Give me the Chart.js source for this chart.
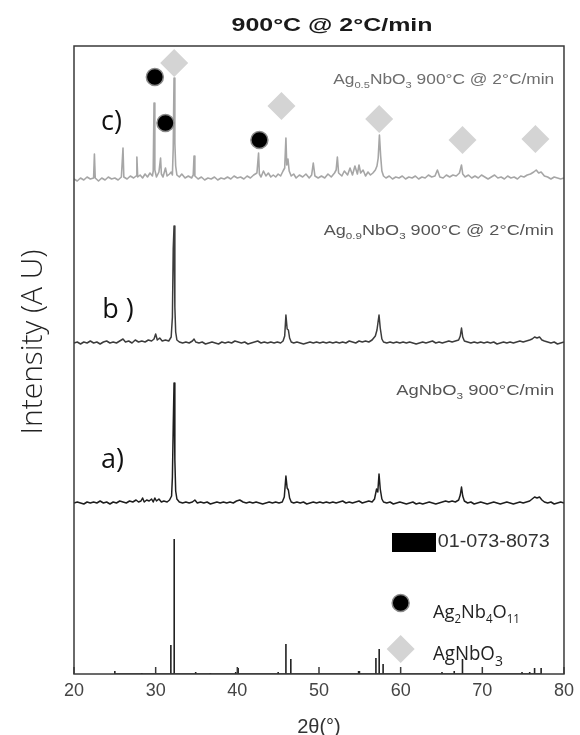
<!DOCTYPE html>
<html>
<head>
<meta charset="utf-8">
<script src="https://cdn.jsdelivr.net/npm/chart.js@4.4.1/dist/chart.umd.min.js"></script>
<style>
  html,body{margin:0;padding:0;background:#fff;}
  #wrap{width:580px;height:735px;}
</style>
</head>
<body>
<div id="wrap"><canvas id="c" width="580" height="735"></canvas></div>
<script>
// ---------------- DATA ----------------
// 2θ axis ticks
const xTickValues = [20, 30, 40, 50, 60, 70, 80];

// Pattern c) Ag0.5NbO3 — [2θ, intensity above its own baseline]
const patternC = [[20,1],[20.4,-1],[20.8,2],[21.2,0],[21.6,3],[22.0,1],[22.4,2],[22.5,26],[22.6,2],[23.0,-1],[23.4,2],[23.8,0],[24.2,3],[24.6,1],[25.0,2],[25.4,0],[25.8,3],[26.0,32],[26.1,3],[26.5,1],[26.9,4],[27.3,2],[27.6,4],[27.7,23],[27.8,3],[28.1,5],[28.4,2],[28.7,6],[29.0,3],[29.3,7],[29.6,4],[29.7,9],[29.8,77],[29.9,10],[30.1,3],[30.4,8],[30.6,22],[30.7,6],[30.9,3],[31.2,12],[31.4,4],[31.7,6],[31.9,8],[32.05,5],[32.15,32],[32.25,102],[32.35,37],[32.45,14],[32.6,5],[32.9,3],[33.2,6],[33.6,2],[34.0,4],[34.4,2],[34.6,5],[34.7,24],[34.8,4],[35.2,1],[35.6,3],[36.0,0],[36.4,2],[36.8,1],[37.2,3],[37.6,0],[38.0,2],[38.4,1],[38.8,3],[39.2,1],[39.6,4],[40.0,2],[40.4,3],[40.8,1],[41.2,4],[41.6,2],[42.0,5],[42.4,7],[42.6,27],[42.7,6],[42.9,3],[43.2,9],[43.5,4],[43.8,7],[44.1,3],[44.4,5],[44.7,3],[45.0,6],[45.3,4],[45.6,9],[45.8,12],[45.95,42],[46.05,15],[46.2,21],[46.35,9],[46.6,4],[46.9,6],[47.2,2],[47.6,5],[48.0,3],[48.4,6],[48.8,2],[49.1,5],[49.3,17],[49.5,4],[49.9,2],[50.3,4],[50.7,2],[51.1,6],[51.5,3],[51.9,7],[52.1,10],[52.25,23],[52.4,7],[52.8,4],[53.1,9],[53.5,5],[53.8,12],[54.1,5],[54.4,14],[54.7,6],[54.9,15],[55.1,7],[55.4,10],[55.7,4],[56.0,8],[56.3,5],[56.6,7],[56.9,10],[57.1,14],[57.25,22],[57.4,45],[57.55,24],[57.7,9],[57.9,4],[58.2,2],[58.6,4],[59.0,1],[59.4,3],[59.8,2],[60.2,4],[60.6,1],[61.0,3],[61.4,2],[61.8,4],[62.2,1],[62.6,3],[63.0,2],[63.4,5],[63.8,3],[64.2,4],[64.5,10],[64.8,3],[65.2,2],[65.6,5],[66.0,3],[66.4,5],[66.8,4],[67.2,7],[67.45,15],[67.6,6],[67.9,3],[68.3,5],[68.7,2],[69.1,4],[69.5,2],[69.9,5],[70.3,3],[70.7,1],[71.1,3],[71.5,5],[71.9,2],[72.3,3],[72.7,1],[73.1,4],[73.5,2],[73.9,3],[74.3,1],[74.7,4],[75.1,3],[75.5,5],[75.9,6],[76.3,8],[76.6,10],[76.9,7],[77.2,8],[77.6,4],[78.0,3],[78.4,1],[78.8,3],[79.2,2],[79.6,1],[80,2]];

// Pattern b) Ag0.9NbO3
const patternB = [[20,0],[20.4,1],[20.8,-1],[21.2,1],[21.6,0],[22.0,2],[22.4,0],[22.8,1],[23.2,-1],[23.6,1],[24.0,2],[24.4,0],[24.8,1],[25.2,0],[25.6,2],[26.0,4],[26.3,1],[26.7,2],[27.1,0],[27.5,3],[27.9,1],[28.3,2],[28.7,1],[29.1,3],[29.5,2],[29.8,4],[30.0,9],[30.2,3],[30.5,5],[30.8,2],[31.2,3],[31.6,2],[31.9,6],[32.05,26],[32.15,94],[32.25,117],[32.35,36],[32.45,11],[32.6,3],[32.9,1],[33.3,0],[33.7,1],[34.1,0],[34.5,2],[34.7,4],[34.9,1],[35.3,0],[35.7,1],[36.1,-1],[36.5,0],[36.9,1],[37.3,0],[37.7,-1],[38.1,1],[38.5,0],[38.9,1],[39.3,0],[39.7,2],[40.1,1],[40.5,0],[40.9,1],[41.3,-1],[41.7,0],[42.1,1],[42.5,2],[42.9,0],[43.3,1],[43.7,0],[44.1,1],[44.5,0],[44.9,1],[45.3,0],[45.6,2],[45.8,7],[45.95,28],[46.1,14],[46.25,13],[46.4,5],[46.6,1],[46.9,0],[47.3,1],[47.7,0],[48.1,-1],[48.5,0],[48.9,1],[49.3,0],[49.7,1],[50.1,0],[50.5,1],[50.9,0],[51.3,1],[51.7,0],[52.1,1],[52.5,0],[52.9,1],[53.3,0],[53.7,2],[54.1,1],[54.5,0],[54.9,2],[55.3,1],[55.7,2],[56.1,1],[56.5,3],[56.9,7],[57.1,13],[57.35,28],[57.5,15],[57.7,4],[57.9,1],[58.3,0],[58.7,1],[59.1,0],[59.5,1],[59.9,0],[60.3,1],[60.7,0],[61.1,1],[61.5,0],[61.9,-1],[62.3,0],[62.7,1],[63.1,0],[63.5,1],[63.9,2],[64.3,0],[64.7,1],[65.1,0],[65.5,1],[65.9,2],[66.3,1],[66.7,2],[67.1,3],[67.3,7],[67.45,15],[67.6,6],[67.8,2],[68.2,1],[68.6,0],[69.0,1],[69.4,0],[69.8,1],[70.2,0],[70.6,1],[71.0,0],[71.4,1],[71.8,-1],[72.2,0],[72.6,1],[73.0,0],[73.4,1],[73.8,0],[74.2,1],[74.6,2],[75.0,1],[75.4,2],[75.8,3],[76.1,4],[76.4,6],[76.7,5],[77.0,6],[77.3,3],[77.6,2],[78.0,1],[78.4,0],[78.8,1],[79.2,-1],[79.6,0],[80,1]];

// Pattern a) AgNbO3
const patternA = [[20,0],[20.4,1],[20.8,0],[21.2,-1],[21.6,1],[22.0,0],[22.4,1],[22.8,0],[23.2,2],[23.6,0],[24.0,1],[24.4,-1],[24.8,1],[25.2,0],[25.6,2],[26.0,1],[26.4,0],[26.8,2],[27.2,1],[27.6,3],[27.9,1],[28.2,2],[28.4,5],[28.6,1],[28.9,3],[29.2,2],[29.5,4],[29.7,1],[29.9,5],[30.1,2],[30.4,4],[30.7,1],[31.0,2],[31.4,1],[31.7,3],[31.95,7],[32.05,26],[32.15,76],[32.25,120],[32.35,43],[32.45,12],[32.6,4],[32.9,1],[33.3,0],[33.7,1],[34.1,0],[34.5,1],[34.8,3],[35.1,0],[35.5,1],[35.9,0],[36.3,1],[36.7,-1],[37.1,0],[37.5,1],[37.9,0],[38.3,1],[38.7,0],[39.1,1],[39.5,0],[39.9,2],[40.3,3],[40.7,1],[41.1,0],[41.5,1],[41.9,0],[42.3,1],[42.7,0],[43.1,-1],[43.5,0],[43.9,1],[44.3,0],[44.7,1],[45.1,0],[45.5,1],[45.75,6],[45.95,27],[46.1,15],[46.25,13],[46.4,5],[46.6,1],[46.9,0],[47.3,1],[47.7,0],[48.1,1],[48.5,-1],[48.9,0],[49.3,1],[49.7,0],[50.1,1],[50.5,0],[50.9,1],[51.3,0],[51.7,1],[52.1,0],[52.5,1],[52.9,2],[53.3,0],[53.7,1],[54.1,0],[54.5,1],[54.9,2],[55.3,0],[55.7,1],[56.1,2],[56.5,1],[56.8,4],[57.05,14],[57.2,11],[57.35,29],[57.5,14],[57.7,4],[57.9,1],[58.3,0],[58.7,1],[59.1,-1],[59.5,0],[59.9,1],[60.3,0],[60.7,-1],[61.1,0],[61.5,1],[61.9,-1],[62.3,0],[62.7,-1],[63.1,0],[63.5,1],[63.9,0],[64.3,-1],[64.7,0],[65.1,1],[65.5,2],[65.9,1],[66.3,2],[66.7,1],[67.1,3],[67.3,8],[67.45,16],[67.6,7],[67.8,2],[68.2,0],[68.6,1],[69.0,-1],[69.4,0],[69.8,1],[70.2,0],[70.6,-1],[71.0,0],[71.4,1],[71.8,0],[72.2,-1],[72.6,0],[73.0,1],[73.4,0],[73.8,-1],[74.2,0],[74.6,1],[75.0,0],[75.4,1],[75.8,2],[76.1,4],[76.4,6],[76.7,5],[77.0,6],[77.3,3],[77.6,1],[78.0,0],[78.4,1],[78.8,-1],[79.2,0],[79.6,1],[80,0]];

// Reference card 01-073-8073 sticks — [2θ, relative intensity]
const refSticks = [[25.0,3],[28.3,1],[31.86,29],[32.27,135],[34.9,2],[36.7,1],[39.8,2],[40.1,6],[45.0,2],[45.95,30],[46.55,15],[54.85,3],[54.95,3],[56.97,16],[57.37,25],[57.85,10],[65.06,2],[66.56,3],[67.57,15],[74.86,2],[75.8,2],[76.4,6],[77.2,6]];

// Vertical stacking level of each pattern (intensity units)
const stackLevels = { c: 494, b: 331, a: 171, ref: 0 };

// Phase markers on pattern c) [2θ, level]
const ag2nb4o11Marks = [[29.9,597],[31.2,551],[42.7,534]];
const agnbo3Marks = [[32.27,611],[45.4,568],[57.37,555],[67.57,534],[76.5,535]];
// Legend symbols [2θ, level]
const legendCardMark = [[61.6,132]];
const legendCircleMark = [[60.0,71]];
const legendDiamondMark = [[60.0,25]];

// Texts
const chartTitle = '900°C @ 2°C/min';
const xTitle = '2θ(°)';
const yTitle = 'Intensity (A U)';
const cardName = '01-073-8073';

// ---------------- BUILD ----------------
const toXY = (arr, off) => arr.map(([x, y]) => ({ x: x, y: y + off }));
const stickLine = [];
refSticks.forEach(([x, h]) => {
  stickLine.push({ x: x, y: 0 }, { x: x, y: h }, { x: x, y: 0 });
});
const toPts = arr => arr.map(([x, y]) => ({ x: x, y: y }));

// legend rectangle symbol
const rectSym = document.createElement('canvas');
rectSym.width = 44; rectSym.height = 19;
(function(){ const g = rectSym.getContext('2d'); g.fillStyle = '#000'; g.fillRect(0,0,44,19); })();

const LINE = { type: 'line', showLine: true, pointRadius: 0, tension: 0, fill: false, borderJoinStyle: 'round' };

const frameAndText = {
  id: 'frameAndText',
  afterDatasetsDraw(chart) {
    const ctx = chart.ctx, a = chart.chartArea, xs = chart.scales.x, ys = chart.scales.y;
    ctx.save();
    // frame
    ctx.strokeStyle = '#3a3a3a'; ctx.lineWidth = 1.5;
    ctx.strokeRect(a.left, a.top, a.right - a.left, a.bottom - a.top);
    // inward ticks
    ctx.beginPath();
    xs.ticks.forEach(t => {
      const px = xs.getPixelForValue(t.value);
      ctx.moveTo(px, a.bottom); ctx.lineTo(px, a.bottom - 7);
    });
    ctx.stroke();

    const X = v => xs.getPixelForValue(v), Y = v => ys.getPixelForValue(v);
    // draw rich text runs; optional target width stretches horizontally
    function runs(list, x, y, size, family, weight, color, align, target, subRatio) {
      const sr = subRatio || 0.62;
      const sub = Math.round(size * sr);
      let total = 0;
      const w = list.map(([t, s]) => { ctx.font = `${weight} ${s ? sub : size}px ${family}`; const m = ctx.measureText(t).width; total += m; return m; });
      const f = target ? target / total : 1;
      const full = total * f;
      const x0 = align === 'right' ? x - full : align === 'center' ? x - full / 2 : x;
      ctx.save();
      ctx.translate(x0, y); ctx.scale(f, 1);
      ctx.fillStyle = color; ctx.textBaseline = 'alphabetic'; ctx.textAlign = 'left';
      let cx = 0;
      list.forEach(([t, s], i) => {
        ctx.font = `${weight} ${s ? sub : size}px ${family}`;
        ctx.fillText(t, cx, s ? size * 0.28 : 0);
        cx += w[i];
      });
      ctx.restore();
    }
    const arial = '"Liberation Sans", Arial, sans-serif';
    const calib = '"Open Sans", sans-serif';
    // chart title
    runs([[chartTitle,0]], 332, 31, 19, arial, 'bold', '#1a1a1a', 'center', 201);
    // series captions
    runs([['Ag',0],['0.5',1],['NbO',0],['3',1],[' 900°C @ 2°C/min',0]], X(78.8), Y(590), 14, arial, 'normal', '#6e6e6e', 'right', 221);
    runs([['Ag',0],['0.9',1],['NbO',0],['3',1],[' 900°C @ 2°C/min',0]], X(78.75), Y(439), 14, arial, 'normal', '#555', 'right', 230);
    runs([['AgNbO',0],['3',1],[' 900°C/min',0]], X(78.8), Y(279), 14, arial, 'normal', '#555', 'right', 158);
    // pattern letters
    runs([['c)',0]], X(23.3), Y(544), 27, calib, 'normal', '#111', 'left');
    runs([['b )',0]], X(23.45), Y(356), 27, calib, 'normal', '#111', 'left');
    runs([['a)',0]], X(23.3), Y(206), 27, calib, 'normal', '#111', 'left');
    // legend texts
    runs([[cardName,0]], X(64.55), Y(127), 18, arial, 'normal', '#333', 'left', 112);
    runs([['Ag',0],['2',1],['Nb',0],['4',1],['O',0],['11',1]], X(63.95), Y(56), 19, calib, 'normal', '#222', 'left', 87);
    runs([['AgNbO',0],['3',1]], X(63.95), Y(14), 20, calib, 'normal', '#222', 'left', 70, 0.75);
    // y title
    ctx.save();
    ctx.translate(32, 342); ctx.rotate(-Math.PI / 2);
    runs([[yTitle,0]], 0, 10, 29, calib, '300', '#222', 'center', 185);
    ctx.restore();
    ctx.restore();
  }
};

new Chart(document.getElementById('c'), {
  type: 'line',
  data: {
    datasets: [
      { type: 'scatter', data: toPts(agnbo3Marks.concat(legendDiamondMark)), pointStyle: 'rectRot', pointRadius: 14, backgroundColor: '#d4d4d4', borderColor: '#d4d4d4', borderWidth: 0, order: 0 },
      { type: 'scatter', data: toPts(ag2nb4o11Marks.concat(legendCircleMark)), pointStyle: 'circle', pointRadius: 8.5, backgroundColor: '#000', borderColor: '#8a8a8a', borderWidth: 1.5, order: 0 },
      { type: 'scatter', data: toPts(legendCardMark), pointStyle: rectSym, pointRadius: 10, order: 0 },
      Object.assign({}, LINE, { data: toXY(patternC, stackLevels.c), borderColor: '#a6a6a6', borderWidth: 1.6, order: 2 }),
      Object.assign({}, LINE, { data: toXY(patternB, stackLevels.b), borderColor: '#3c3c3c', borderWidth: 1.5, order: 2 }),
      Object.assign({}, LINE, { data: toXY(patternA, stackLevels.a), borderColor: '#1e1e1e', borderWidth: 1.5, order: 2 }),
      Object.assign({}, LINE, { data: stickLine, borderColor: '#222', borderWidth: 1.6, borderJoinStyle: 'miter', order: 2 })
    ]
  },
  options: {
    responsive: false,
    animation: false,
    events: [],
    layout: { padding: { left: 0, right: 12, top: 46, bottom: 0 } },
    plugins: {
      legend: { display: false },
      tooltip: { enabled: false },
      title: { display: false, text: chartTitle }
    },
    scales: {
      x: {
        type: 'linear', min: 20, max: 80, offset: false,
        afterBuildTicks: s => { s.ticks = xTickValues.map(v => ({ value: v })); },
        afterFit: s => { s.height = 61; },
        grid: { display: false, drawTicks: false },
        border: { display: false },
        ticks: { color: '#444', padding: 6, font: { family: '"Liberation Sans", Arial, sans-serif', size: 18 } },
        title: { display: true, text: xTitle, color: '#333', padding: { top: 0, bottom: -2 }, font: { family: '"Liberation Sans", Arial, sans-serif', size: 20, lineHeight: 1 } }
      },
      y: {
        min: 0, max: 628,
        afterFit: s => { s.width = 74; },
        grid: { display: false, drawTicks: false },
        border: { display: false },
        ticks: { display: false }
      }
    }
  },
  plugins: [frameAndText]
});
</script>
</body>
</html>
